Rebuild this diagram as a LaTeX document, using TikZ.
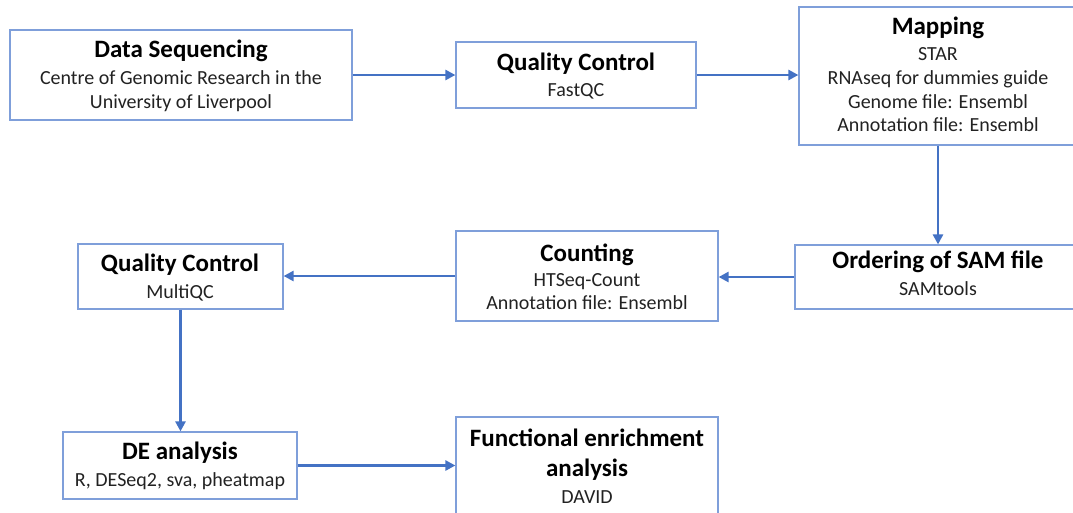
\documentclass[tikz,border=0pt]{standalone}
\usepackage{fontspec}
\setmainfont{Carlito}
\usetikzlibrary{arrows.meta}
\definecolor{boxblue}{HTML}{7F9FDA}
\definecolor{arrblue}{HTML}{4472C4}
\definecolor{subgray}{HTML}{222222}
\begin{document}
\begin{tikzpicture}[x=1pt,y=-1pt,
  box/.style={draw=boxblue,line width=1.2pt,fill=white,inner sep=0pt,rectangle},
  ttl/.style={anchor=base,inner sep=0pt,font=\fontsize{25}{30}\selectfont\bfseries,text=black},
  sub/.style={anchor=base,inner sep=0pt,font=\fontsize{20}{24}\selectfont,text=subgray},
  flow/.style={draw=arrblue,line width=2.8pt,-{Triangle[length=10pt,width=10pt]}}]
\useasboundingbox (0,0) rectangle (1073,512);
% boxes
\node[box,minimum width=342pt,minimum height=90pt] (ds) at (181,75) {};
\node[box,minimum width=240pt,minimum height=66pt] (qc1) at (576,75) {};
\node[box,minimum width=278pt,minimum height=138pt] (map) at (938,76) {};
\node[box,minimum width=290pt,minimum height=64pt] (ord) at (940,277) {};
\node[box,minimum width=262pt,minimum height=90pt] (cnt) at (587,276) {};
\node[box,minimum width=205pt,minimum height=65pt] (qc2) at (180.5,276.5) {};
\node[box,minimum width=234pt,minimum height=67pt] (de) at (180,465.5) {};
\node[box,minimum width=262pt,minimum height=113pt] (fe) at (587,473.5) {};
% texts
\node[ttl] (dsT) at (181,57) {Data Sequencing};
\node[sub] (dsS1) at (181,84) {Centre of Genomic Research in the};
\node[sub] (dsS2) at (181,108) {University of Liverpool};
\node[ttl] (qc1T) at (576,70) {Quality Control};
\node[sub] (qc1S) at (576,96) {FastQC};
\node[ttl] (mapT) at (938,34) {Mapping};
\node[sub] (mapS1) at (938,60) {STAR};
\node[sub] (mapS2) at (938,84) {RNAseq for dummies guide};
\node[sub] (mapS3) at (938,108) {Genome file: Ensembl};
\node[sub] (mapS4) at (938,131) {Annotation file: Ensembl};
\node[ttl] (ordT) at (938,268) {Ordering of SAM file};
\node[sub] (ordS) at (938,295) {SAMtools};
\node[ttl] (cntT) at (587,261) {Counting};
\node[sub] (cntS1) at (587,286) {HTSeq-Count};
\node[sub] (cntS2) at (587,309) {Annotation file: Ensembl};
\node[ttl] (qc2T) at (180,271) {Quality Control};
\node[sub] (qc2S) at (180,298) {MultiQC};
\node[ttl] (deT) at (180,459) {DE analysis};
\node[sub] (deS) at (180,486) {R, DESeq2, sva, pheatmap};
\node[ttl] (feT1) at (587,446) {Functional enrichment};
\node[ttl] (feT2) at (587,476) {analysis};
\node[sub] (feS) at (587,503) {DAVID};
% connectors
\draw[flow] (ds.east) -- (qc1.west);
\draw[flow] (qc1.east) -- (qc1.east -| map.west);
\draw[flow] (map.south) -- (map.south |- ord.north);
\draw[flow] (ord.west) -- (ord.west -| cnt.east);
\draw[flow] (cnt.west) -- (cnt.west -| qc2.east);
\draw[flow] (qc2.south) -- (qc2.south |- de.north);
\draw[flow] (de.east) -- (de.east -| fe.west);
\end{tikzpicture}
\end{document}
